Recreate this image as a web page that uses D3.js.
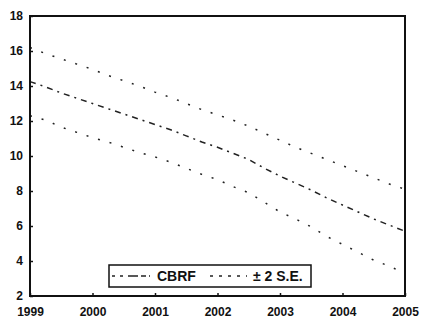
<!DOCTYPE html>
<html>
<head>
<meta charset="utf-8">
<script src="https://cdn.jsdelivr.net/npm/d3@7"></script>
<style>
  body { margin: 0; background: #fff; }
  svg text { font-family: "Liberation Sans", Arial, sans-serif; font-weight: bold; fill: #111; }
</style>
</head>
<body>
<div id="chart"></div>
<script>
// quarterly forecast dates
var dates = [1999.00, 1999.25, 1999.50, 1999.75, 2000.00, 2000.25, 2000.50, 2000.75,
             2001.00, 2001.25, 2001.50, 2001.75, 2002.00, 2002.25, 2002.50, 2002.75,
             2003.00, 2003.25, 2003.50, 2003.75, 2004.00, 2004.25, 2004.50, 2004.75, 2005.00];
// CBRF forecast
var cbrf = [14.25, 13.95, 13.6, 13.3, 13.0, 12.7, 12.4, 12.1,
            11.8, 11.5, 11.15, 10.8, 10.5, 10.15, 9.8, 9.3,
            8.85, 8.45, 8.05, 7.6, 7.2, 6.8, 6.4, 6.05, 5.7];
// +2 S.E.
var upper = [16.2, 15.85, 15.55, 15.25, 14.95, 14.6, 14.3, 14.0,
             13.65, 13.35, 13.0, 12.65, 12.35, 12.05, 11.7, 11.3,
             10.9, 10.5, 10.15, 9.8, 9.45, 9.1, 8.75, 8.4, 8.1];
// -2 S.E.
var lower = [12.3, 12.05, 11.65, 11.35, 11.05, 10.8, 10.5, 10.2,
             9.95, 9.65, 9.3, 8.95, 8.65, 8.25, 7.9, 7.35,
             6.8, 6.4, 5.95, 5.4, 4.95, 4.5, 4.05, 3.7, 3.3];

var yTicks = [2, 4, 6, 8, 10, 12, 14, 16, 18];
var xTicks = [1999, 2000, 2001, 2002, 2003, 2004, 2005];
var legendLabels = ["CBRF", "\u00b1 2 S.E."];

var W = 422, H = 323;
var mLeft = 30, mRight = 405, mTop = 16, mBottom = 296;

var svg = d3.select("#chart").append("svg")
    .attr("width", W)
    .attr("height", H);

var x = d3.scaleLinear().domain([1999, 2005]).range([mLeft, mRight]);
var y = d3.scaleLinear().domain([2, 18]).range([mBottom, mTop]);

var line = d3.line()
    .x(function(d){ return x(d[0]); })
    .y(function(d){ return y(d[1]); });

//bands
[upper, lower].forEach(function(s){
    svg.append("path")
        .attr("d", line(d3.zip(dates, s)))
        .attr("fill", "none")
        .attr("stroke", "#222")
        .attr("stroke-width", 1.5)
        .attr("stroke-dasharray", "2,10");
});

//forecast
svg.append("path")
    .attr("d", line(d3.zip(dates, cbrf)))
    .attr("fill", "none")
    .attr("stroke", "#222")
    .attr("stroke-width", 1.5)
    .attr("stroke-dasharray", "6,5,2,5");

//axes
var yAxis = d3.axisLeft(y).tickValues(yTicks).tickSize(-3).tickPadding(7);
var gy = svg.append("g").attr("transform", "translate(" + mLeft + ",0)").call(yAxis);
var xAxis = d3.axisBottom(x).tickValues(xTicks).tickFormat(d3.format("d")).tickSize(-3).tickPadding(11);
var gx = svg.append("g").attr("transform", "translate(0," + mBottom + ")").call(xAxis);
[gx, gy].forEach(function(g){
    g.select(".domain").remove();
    g.selectAll("line").attr("stroke", "#111").attr("stroke-width", 1.5);
    g.selectAll("text").attr("font-size", "12px").attr("font-family", null).attr("fill", "#111");
});

//frame
svg.append("rect")
    .attr("x", mLeft)
    .attr("y", mTop)
    .attr("width", mRight - mLeft)
    .attr("height", mBottom - mTop)
    .attr("fill", "none")
    .attr("stroke", "#111")
    .attr("stroke-width", 2);

//legend
var lg = svg.append("g");
lg.append("rect")
    .attr("x", 109).attr("y", 265)
    .attr("width", 202).attr("height", 22)
    .attr("fill", "#fff")
    .attr("stroke", "#111")
    .attr("stroke-width", 1.5);
lg.append("line")
    .attr("x1", 112).attr("x2", 150).attr("y1", 276).attr("y2", 276)
    .attr("stroke", "#222").attr("stroke-width", 1.5)
    .attr("stroke-dasharray", "3,5,3,5,10");
lg.append("line")
    .attr("x1", 210).attr("x2", 247).attr("y1", 276).attr("y2", 276)
    .attr("stroke", "#222").attr("stroke-width", 1.5)
    .attr("stroke-dasharray", "3,6");
lg.append("text")
    .attr("x", 157).attr("y", 281)
    .attr("font-size", "14px")
    .text(legendLabels[0]);
lg.append("text")
    .attr("x", 253).attr("y", 281)
    .attr("font-size", "14px")
    .text(legendLabels[1]);
</script>
</body>
</html>
